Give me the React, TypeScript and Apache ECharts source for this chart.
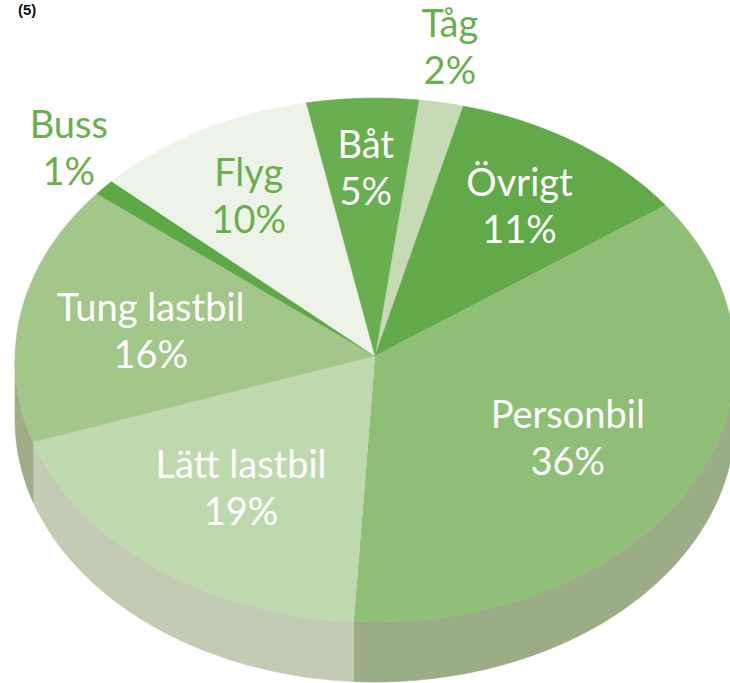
import React, { useEffect, useRef } from "react";
import * as echarts from "echarts";

const categories = ["Tåg", "Övrigt", "Personbil", "Lätt lastbil", "Tung lastbil", "Buss", "Flyg", "Båt"];
const shares = [2, 11, 36, 19, 16, 1, 10, 5];
const topColors = ["#c5dab5", "#62a94a", "#8fbe76", "#bfd9ae", "#a3c78a", "#5fa847", "#edf3e8", "#6aae52"];
const sideColors = ["#b5c2a8", "#7d9a6c", "#9aad86", "#c3cbb4", "#9fae89", "#7d9a6c", "#d4dbcc", "#84a06e"];
const labelColors = ["#6aaf4f", "#ffffff", "#ffffff", "#ffffff", "#ffffff", "#6aaf4f", "#6aaf4f", "#ffffff"];
const noteText = "(5)";

const CX = 375;
const CY = 360;
const RX = 360;
const RY = 262;
const DEPTH = 60;
const START = (7 * Math.PI) / 180;

const total = shares.reduce((a, b) => a + b, 0);
const bounds: number[] = [];
{
  let acc = 0;
  for (let i = 0; i <= shares.length; i++) {
    bounds.push(START + (2 * Math.PI * acc) / total);
    if (i < shares.length) acc += shares[i];
  }
}

function pt(t: number, fx = 1, fy = 1, dy = 0): number[] {
  return [CX + fx * RX * Math.sin(t), CY - fy * RY * Math.cos(t) + dy];
}

function arc(a: number, b: number, dy = 0): number[][] {
  const pts: number[][] = [];
  const n = Math.max(2, Math.ceil(((b - a) * 180) / Math.PI));
  for (let k = 0; k <= n; k++) pts.push(pt(a + ((b - a) * k) / n, 1, 1, dy));
  return pts;
}

export default function App() {
  const ref = useRef<HTMLDivElement>(null);
  useEffect(() => {
    if (!ref.current) return;
    const chart = echarts.init(ref.current, undefined, { renderer: "svg" });
    const data = shares.map((v, i) => ({ name: categories[i], value: [v, i] }));

    const sideRender = (params: any) => {
      const i = params.dataIndex;
      const a = bounds[i];
      const b = bounds[i + 1];
      const children: any[] = [];
      const ranges = [
        [Math.PI / 2, (3 * Math.PI) / 2],
        [Math.PI / 2 + 2 * Math.PI, (3 * Math.PI) / 2 + 2 * Math.PI],
      ];
      for (const [lo0, hi0] of ranges) {
        const lo = Math.max(a, lo0);
        const hi = Math.min(b, hi0);
        if (hi > lo) {
          const top = arc(lo, hi, 0);
          const bot = arc(lo, hi, DEPTH).reverse();
          children.push({
            type: "polygon",
            shape: { points: top.concat(bot) },
            style: { fill: sideColors[i], stroke: sideColors[i], lineWidth: 0.5 },
          });
        }
      }
      return { type: "group", children };
    };

    const topRender = (params: any) => {
      const i = params.dataIndex;
      const a = bounds[i];
      const b = bounds[i + 1];
      const points = [[CX, CY - 4]].concat(arc(a, b, 0));
      return {
        type: "polygon",
        shape: { points },
        style: { fill: topColors[i], stroke: topColors[i], lineWidth: 0.5 },
      };
    };

    const labelRender = (params: any) => {
      const i = params.dataIndex;
      const mid = (bounds[i] + bounds[i + 1]) / 2;
      const outside = shares[i] < 3;
      const f = outside ? 1.19 : 0.61 + 0.13 * Math.max(0, Math.cos(mid));
      const fx = outside ? f * 0.95 : f;
      const [x, y] = pt(mid, fx, f, outside ? -8 : 0);
      return {
        type: "text",
        x,
        y,
        style: {
          text: categories[i] + "\n" + shares[i] + "%",
          fill: labelColors[i],
          fontSize: 38,
          fontFamily: "Lato",
          align: "center",
          verticalAlign: "middle",
          lineHeight: 47,
        },
      };
    };

    chart.setOption({
      animation: false,
      backgroundColor: "#ffffff",
      graphic: [
        {
          type: "text",
          left: 18,
          top: 2,
          style: {
            text: noteText,
            fontSize: 15,
            fontWeight: "bold",
            fontFamily: "Liberation Sans",
            fill: "#111111",
          },
        },
      ],
      series: [
        { type: "custom", coordinateSystem: "none", z: 1, data, renderItem: sideRender, silent: true },
        { type: "custom", coordinateSystem: "none", z: 2, data, renderItem: topRender, silent: true },
        { type: "custom", coordinateSystem: "none", z: 3, data, renderItem: labelRender, silent: true },
      ],
    });
    return () => chart.dispose();
  }, []);
  return (
    <div
      ref={ref}
      style={{ position: "fixed", left: 0, top: 0, width: 730, height: 683, background: "#fff" }}
    />
  );
}
